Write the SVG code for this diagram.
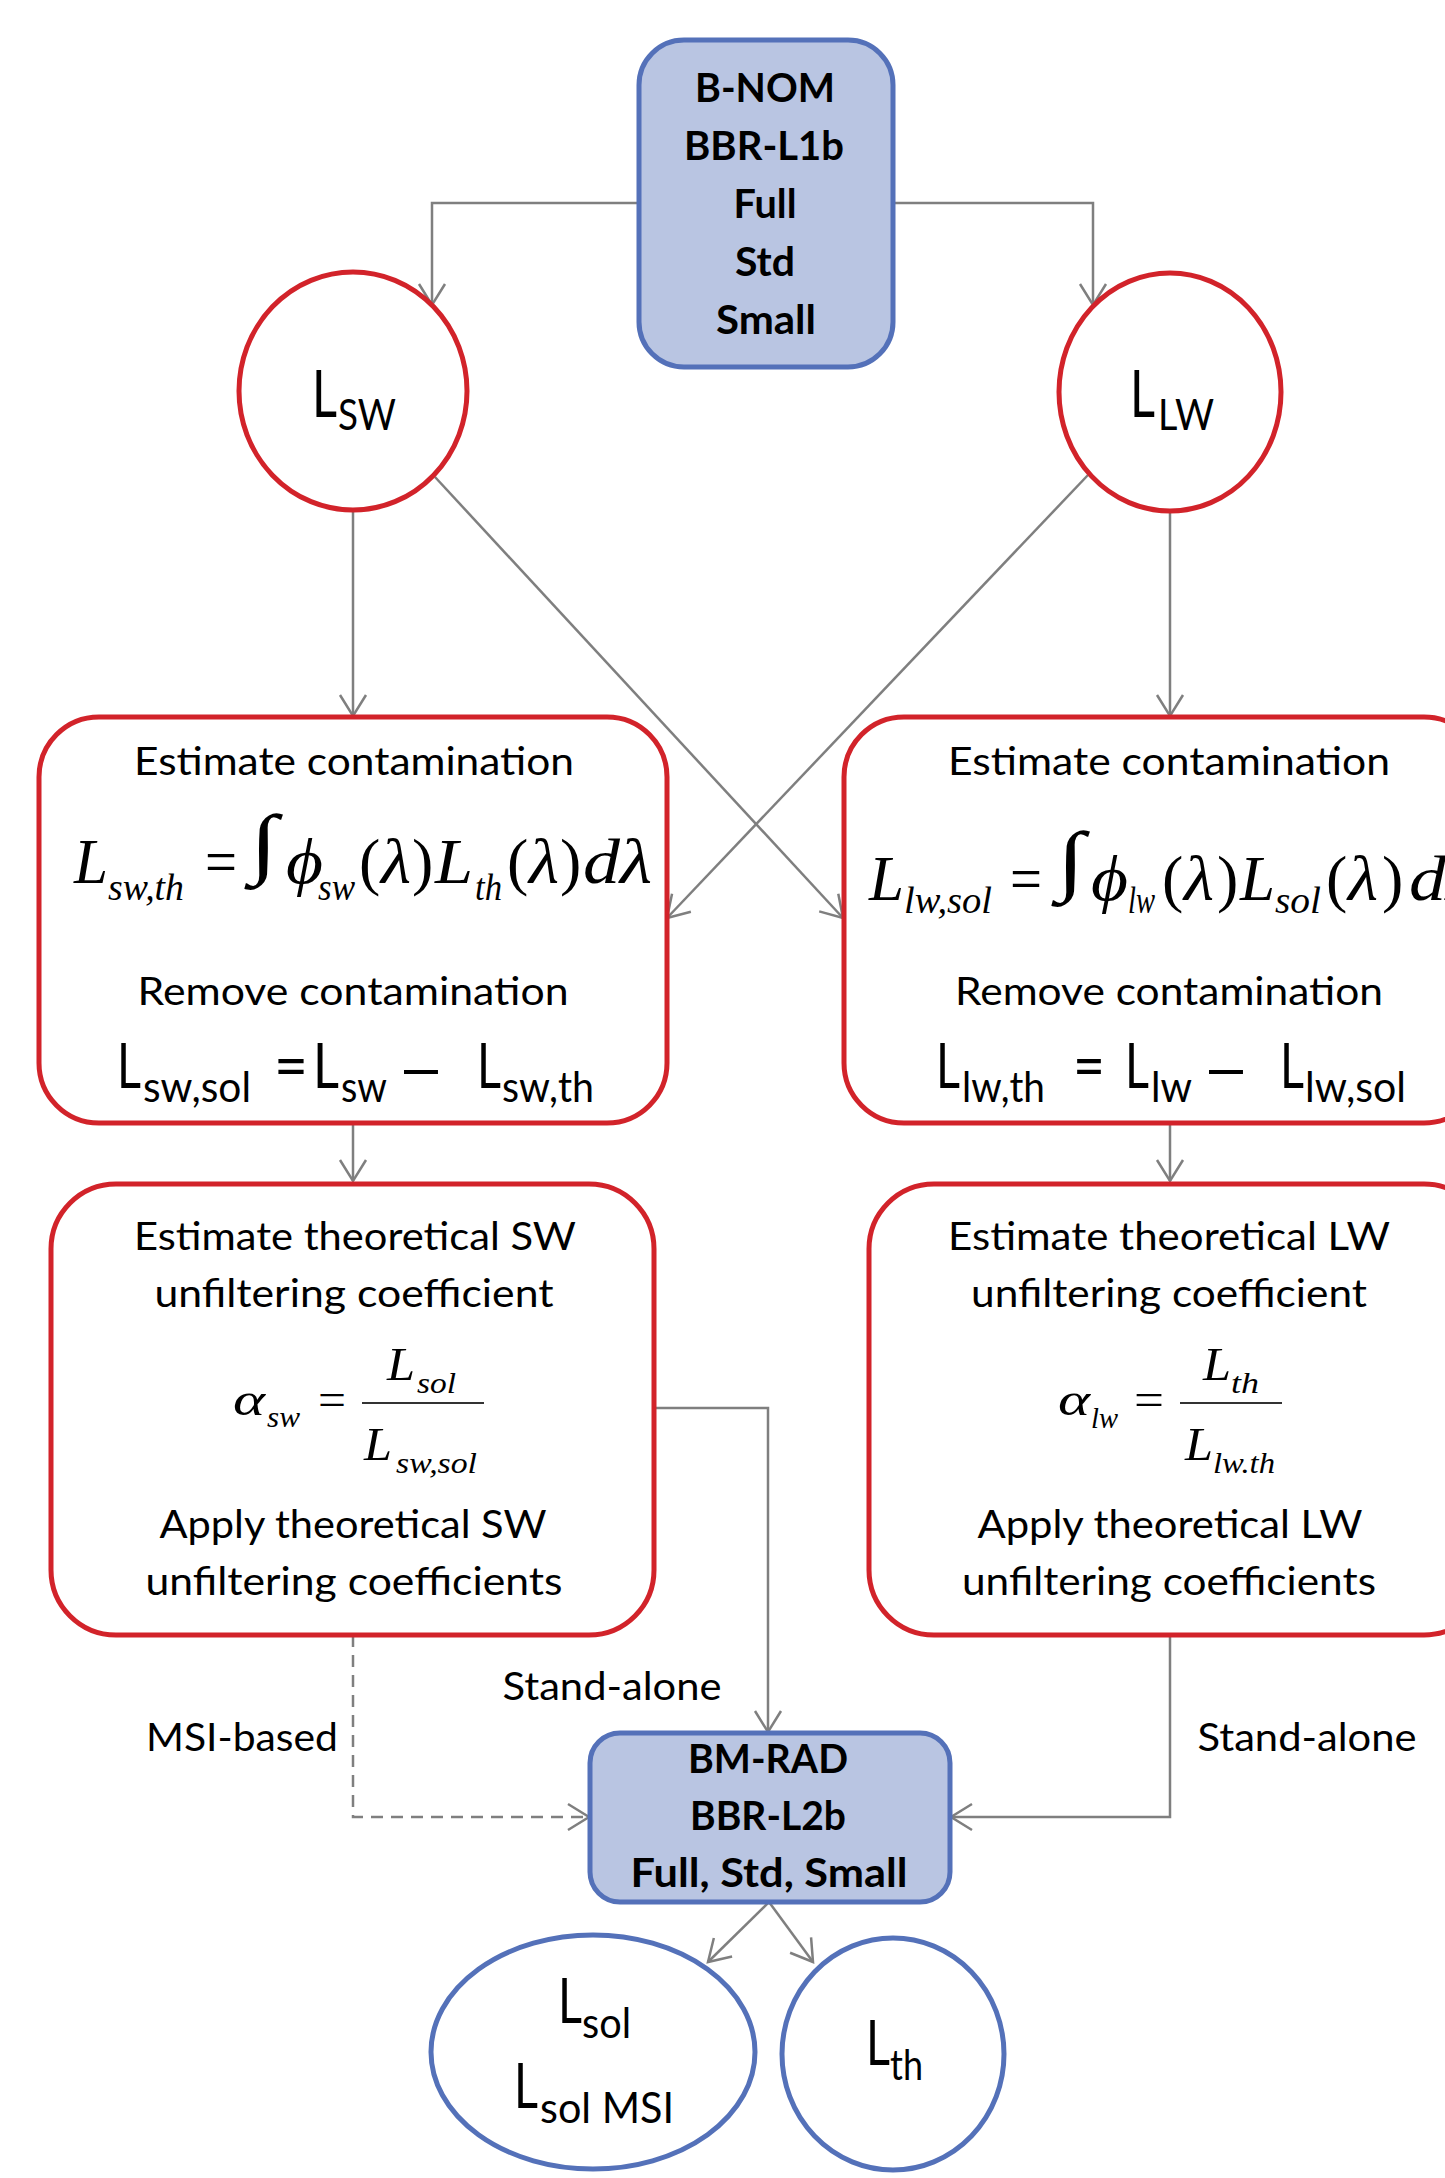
<svg xmlns="http://www.w3.org/2000/svg" width="1445" height="2178" viewBox="0 0 1445 2178">
<style>
.red{fill:#fff;stroke:#D2232A;stroke-width:5}
.blue{fill:#B9C5E2;stroke:#5471B9;stroke-width:5}
.blueo{fill:#fff;stroke:#5471B9;stroke-width:5}
.t{font-family:Lato,"Open Sans","Liberation Sans",sans-serif;font-size:39px;fill:#000}
.b{font-family:Lato,"Open Sans","Liberation Sans",sans-serif;font-size:40px;font-weight:bold;fill:#000}
.big{font-family:Lato,"Open Sans","Liberation Sans",sans-serif;font-size:62px;fill:#000}
.dash{font-family:"Liberation Sans",Arial,sans-serif;font-size:62px;fill:#000}
.sub{font-family:Lato,"Open Sans","Liberation Sans",sans-serif;font-size:43px;fill:#000}
.m{font-family:"Liberation Serif","Times New Roman",serif;font-size:64px;font-style:italic;fill:#000}
.mu{font-family:"Liberation Serif","Times New Roman",serif;font-size:64px;fill:#000}
.int{font-family:"Liberation Serif","Times New Roman",serif;font-size:78px;fill:#000}
.ms{font-family:"Liberation Serif","Times New Roman",serif;font-size:38px;font-style:italic;fill:#000}
.f{font-family:"Liberation Serif","Times New Roman",serif;font-size:46px;font-style:italic;fill:#000}
.fu{font-family:"Liberation Serif","Times New Roman",serif;font-size:46px;fill:#000}
.fs{font-family:"Liberation Serif","Times New Roman",serif;font-size:30px;font-style:italic;fill:#000}
.c{fill:none;stroke:#7F7F7F;stroke-width:2.5}
.d{stroke-dasharray:12 8}
</style>
<defs>
<marker id="ah" markerUnits="userSpaceOnUse" markerWidth="26" markerHeight="30" viewBox="0 0 26 30" refX="23" refY="15" orient="auto">
<path d="M2,2 L23,15 L2,28" fill="none" stroke="#7F7F7F" stroke-width="2.5"/>
</marker>
</defs>

<g id="connectors">
<path class="c" d="M639,203 H432 V305" marker-end="url(#ah)"/>
<path class="c" d="M893,203 H1093 V305" marker-end="url(#ah)"/>
<path class="c" d="M353,510 V716" marker-end="url(#ah)"/>
<path class="c" d="M1170,511 V716" marker-end="url(#ah)"/>
<path class="c" d="M435,477 L843,918" marker-end="url(#ah)"/>
<path class="c" d="M1088,475 L667,918" marker-end="url(#ah)"/>
<path class="c" d="M353,1123 V1181" marker-end="url(#ah)"/>
<path class="c" d="M1170,1123 V1181" marker-end="url(#ah)"/>
<path class="c" d="M654,1408 H768 V1732" marker-end="url(#ah)"/>
<path class="c d" d="M353,1635 V1817 H589" marker-end="url(#ah)"/>
<path class="c" d="M1170,1635 V1817 H951" marker-end="url(#ah)"/>
<path class="c" d="M769,1902 L708,1962" marker-end="url(#ah)"/>
<path class="c" d="M769,1902 L813,1962" marker-end="url(#ah)"/>
<text class="t" x="612" y="1700" text-anchor="middle" textLength="219" lengthAdjust="spacingAndGlyphs">Stand-alone</text>
<text class="t" x="242" y="1751" text-anchor="middle" textLength="192" lengthAdjust="spacingAndGlyphs">MSI-based</text>
<text class="t" x="1307" y="1751" text-anchor="middle" textLength="219" lengthAdjust="spacingAndGlyphs">Stand-alone</text>
</g>

<g id="bnom">
<rect class="blue" x="639" y="40" width="254" height="327" rx="45"/>
<text class="b" x="765" y="102" text-anchor="middle" textLength="140" lengthAdjust="spacingAndGlyphs">B-NOM</text>
<text class="b" x="764" y="160" text-anchor="middle" textLength="160" lengthAdjust="spacingAndGlyphs">BBR-L1b</text>
<text class="b" x="765" y="218" text-anchor="middle" textLength="63" lengthAdjust="spacingAndGlyphs">Full</text>
<text class="b" x="765" y="276" text-anchor="middle" textLength="60" lengthAdjust="spacingAndGlyphs">Std</text>
<text class="b" x="766" y="334" text-anchor="middle" textLength="100" lengthAdjust="spacingAndGlyphs">Small</text>
</g>

<g id="lsw">
<ellipse class="red" cx="353" cy="391" rx="114" ry="119"/>
<text class="big" x="312" y="417" style="font-size:66px" textLength="25" lengthAdjust="spacingAndGlyphs">L</text>
<text class="sub" x="338" y="430" textLength="58" lengthAdjust="spacingAndGlyphs">SW</text>
</g>

<g id="llw">
<ellipse class="red" cx="1170" cy="392" rx="111" ry="119"/>
<text class="big" x="1130" y="417" style="font-size:66px" textLength="25" lengthAdjust="spacingAndGlyphs">L</text>
<text class="sub" x="1158" y="430" textLength="56" lengthAdjust="spacingAndGlyphs">LW</text>
</g>

<g id="contam-sw">
<rect class="red" x="39" y="717" width="628" height="406" rx="60"/>
<text class="t" x="354" y="775" text-anchor="middle" textLength="440" lengthAdjust="spacingAndGlyphs">Estimate contamination</text>
<text class="m" x="74" y="883" textLength="34" lengthAdjust="spacingAndGlyphs">L</text>
<text class="ms" x="108" y="900" textLength="76" lengthAdjust="spacingAndGlyphs">sw,th</text>
<text class="mu" x="205" y="883" textLength="32" lengthAdjust="spacingAndGlyphs">=</text>
<text class="int" x="250" y="869" textLength="28" lengthAdjust="spacingAndGlyphs">∫</text>
<text class="m" x="286" y="883" textLength="37" lengthAdjust="spacingAndGlyphs">ϕ</text>
<text class="ms" x="318" y="900" textLength="37" lengthAdjust="spacingAndGlyphs">sw</text>
<text class="mu" x="359" y="883">(</text>
<text class="m" x="381" y="883" textLength="30" lengthAdjust="spacingAndGlyphs">λ</text>
<text class="mu" x="412" y="883">)</text>
<text class="m" x="435" y="883" textLength="38" lengthAdjust="spacingAndGlyphs">L</text>
<text class="ms" x="475" y="900" textLength="27" lengthAdjust="spacingAndGlyphs">th</text>
<text class="mu" x="507" y="883">(</text>
<text class="m" x="529" y="883" textLength="30" lengthAdjust="spacingAndGlyphs">λ</text>
<text class="mu" x="560" y="883">)</text>
<text class="m" x="583" y="883" textLength="69" lengthAdjust="spacingAndGlyphs">dλ</text>
<text class="t" x="353" y="1005" text-anchor="middle" textLength="431" lengthAdjust="spacingAndGlyphs">Remove contamination</text>
<text class="big" x="117" y="1088" textLength="24" lengthAdjust="spacingAndGlyphs">L</text>
<text class="sub" x="143" y="1102" textLength="108" lengthAdjust="spacingAndGlyphs">sw,sol</text>
<text class="big" x="274" y="1088" textLength="34" lengthAdjust="spacingAndGlyphs">=</text>
<text class="big" x="313" y="1088" textLength="26" lengthAdjust="spacingAndGlyphs">L</text>
<text class="sub" x="341" y="1102" textLength="46" lengthAdjust="spacingAndGlyphs">sw</text>
<text class="dash" x="404" y="1088" textLength="34" lengthAdjust="spacingAndGlyphs">–</text>
<text class="big" x="477" y="1088" textLength="24" lengthAdjust="spacingAndGlyphs">L</text>
<text class="sub" x="502" y="1102" textLength="92" lengthAdjust="spacingAndGlyphs">sw,th</text>
</g>

<g id="contam-lw">
<rect class="red" x="844" y="717" width="640" height="406" rx="60"/>
<text class="t" x="1169" y="775" text-anchor="middle" textLength="442" lengthAdjust="spacingAndGlyphs">Estimate contamination</text>
<text class="m" x="869" y="900" textLength="35" lengthAdjust="spacingAndGlyphs">L</text>
<text class="ms" x="904" y="913" textLength="88" lengthAdjust="spacingAndGlyphs">lw,sol</text>
<text class="mu" x="1010" y="900" textLength="32" lengthAdjust="spacingAndGlyphs">=</text>
<text class="int" x="1057" y="886" textLength="28" lengthAdjust="spacingAndGlyphs">∫</text>
<text class="m" x="1091" y="900" textLength="37" lengthAdjust="spacingAndGlyphs">ϕ</text>
<text class="ms" x="1128" y="913" textLength="27" lengthAdjust="spacingAndGlyphs">lw</text>
<text class="mu" x="1162" y="900">(</text>
<text class="m" x="1184" y="900" textLength="30" lengthAdjust="spacingAndGlyphs">λ</text>
<text class="mu" x="1217" y="900">)</text>
<text class="m" x="1240" y="900" textLength="35" lengthAdjust="spacingAndGlyphs">L</text>
<text class="ms" x="1275" y="913" textLength="46" lengthAdjust="spacingAndGlyphs">sol</text>
<text class="mu" x="1326" y="900">(</text>
<text class="m" x="1348" y="900" textLength="30" lengthAdjust="spacingAndGlyphs">λ</text>
<text class="mu" x="1382" y="900">)</text>
<text class="m" x="1409" y="900" textLength="69" lengthAdjust="spacingAndGlyphs">dλ</text>
<text class="t" x="1169" y="1005" text-anchor="middle" textLength="428" lengthAdjust="spacingAndGlyphs">Remove contamination</text>
<text class="big" x="936" y="1088" textLength="24" lengthAdjust="spacingAndGlyphs">L</text>
<text class="sub" x="962" y="1102" textLength="83" lengthAdjust="spacingAndGlyphs">lw,th</text>
<text class="big" x="1073" y="1088" textLength="32" lengthAdjust="spacingAndGlyphs">=</text>
<text class="big" x="1125" y="1088" textLength="24" lengthAdjust="spacingAndGlyphs">L</text>
<text class="sub" x="1151" y="1102" textLength="41" lengthAdjust="spacingAndGlyphs">lw</text>
<text class="dash" x="1209" y="1088" textLength="34" lengthAdjust="spacingAndGlyphs">–</text>
<text class="big" x="1280" y="1088" textLength="24" lengthAdjust="spacingAndGlyphs">L</text>
<text class="sub" x="1305" y="1102" textLength="101" lengthAdjust="spacingAndGlyphs">lw,sol</text>
</g>

<g id="unfilter-sw">
<rect class="red" x="51" y="1184" width="603" height="451" rx="65"/>
<text class="t" x="355" y="1250" text-anchor="middle" textLength="442" lengthAdjust="spacingAndGlyphs">Estimate theoretical SW</text>
<text class="t" x="354" y="1307" text-anchor="middle" textLength="399" lengthAdjust="spacingAndGlyphs">unfiltering coefficient</text>
<text class="f" x="233" y="1415" textLength="32" lengthAdjust="spacingAndGlyphs">α</text>
<text class="fs" x="267" y="1427" textLength="33" lengthAdjust="spacingAndGlyphs">sw</text>
<text class="fu" x="318" y="1415" textLength="28" lengthAdjust="spacingAndGlyphs">=</text>
<line x1="362" y1="1403" x2="484" y2="1403" stroke="#333" stroke-width="2"/>
<text class="f" x="387" y="1380" textLength="28" lengthAdjust="spacingAndGlyphs">L</text>
<text class="fs" x="417" y="1393" textLength="39" lengthAdjust="spacingAndGlyphs">sol</text>
<text class="f" x="364" y="1460" textLength="28" lengthAdjust="spacingAndGlyphs">L</text>
<text class="fs" x="396" y="1473" textLength="81" lengthAdjust="spacingAndGlyphs">sw,sol</text>
<text class="t" x="353" y="1538" text-anchor="middle" textLength="387" lengthAdjust="spacingAndGlyphs">Apply theoretical SW</text>
<text class="t" x="354" y="1595" text-anchor="middle" textLength="417" lengthAdjust="spacingAndGlyphs">unfiltering coefficients</text>
</g>

<g id="unfilter-lw">
<rect class="red" x="869" y="1184" width="620" height="451" rx="65"/>
<text class="t" x="1169" y="1250" text-anchor="middle" textLength="442" lengthAdjust="spacingAndGlyphs">Estimate theoretical LW</text>
<text class="t" x="1169" y="1307" text-anchor="middle" textLength="396" lengthAdjust="spacingAndGlyphs">unfiltering coefficient</text>
<text class="f" x="1058" y="1415" textLength="32" lengthAdjust="spacingAndGlyphs">α</text>
<text class="fs" x="1091" y="1428" textLength="27" lengthAdjust="spacingAndGlyphs">lw</text>
<text class="fu" x="1134" y="1415" textLength="30" lengthAdjust="spacingAndGlyphs">=</text>
<line x1="1180" y1="1403" x2="1282" y2="1403" stroke="#333" stroke-width="2"/>
<text class="f" x="1203" y="1380" textLength="28" lengthAdjust="spacingAndGlyphs">L</text>
<text class="fs" x="1231" y="1393" textLength="28" lengthAdjust="spacingAndGlyphs">th</text>
<text class="f" x="1185" y="1460" textLength="28" lengthAdjust="spacingAndGlyphs">L</text>
<text class="fs" x="1213" y="1473" textLength="62" lengthAdjust="spacingAndGlyphs">lw.th</text>
<text class="t" x="1170" y="1538" text-anchor="middle" textLength="385" lengthAdjust="spacingAndGlyphs">Apply theoretical LW</text>
<text class="t" x="1169" y="1595" text-anchor="middle" textLength="414" lengthAdjust="spacingAndGlyphs">unfiltering coefficients</text>
</g>

<g id="bmrad">
<rect class="blue" x="590" y="1733" width="360" height="169" rx="30"/>
<text class="b" x="768" y="1773" text-anchor="middle" textLength="160" lengthAdjust="spacingAndGlyphs">BM-RAD</text>
<text class="b" x="768" y="1830" text-anchor="middle" textLength="156" lengthAdjust="spacingAndGlyphs">BBR-L2b</text>
<text class="b" x="769" y="1887" text-anchor="middle" textLength="277" lengthAdjust="spacingAndGlyphs">Full, Std, Small</text>
</g>

<g id="lsol">
<ellipse class="blueo" cx="593" cy="2052" rx="162" ry="117"/>
<text class="big" x="558" y="2023" textLength="24" lengthAdjust="spacingAndGlyphs">L</text>
<text class="sub" x="582" y="2038" textLength="49" lengthAdjust="spacingAndGlyphs">sol</text>
<text class="big" x="514" y="2108" textLength="24" lengthAdjust="spacingAndGlyphs">L</text>
<text class="sub" x="540" y="2123" textLength="134" lengthAdjust="spacingAndGlyphs">sol MSI</text>
</g>

<g id="lth">
<ellipse class="blueo" cx="893" cy="2054" rx="111" ry="116"/>
<text class="big" x="866" y="2065" textLength="24" lengthAdjust="spacingAndGlyphs">L</text>
<text class="sub" x="890" y="2080" textLength="33" lengthAdjust="spacingAndGlyphs">th</text>
</g>
</svg>
